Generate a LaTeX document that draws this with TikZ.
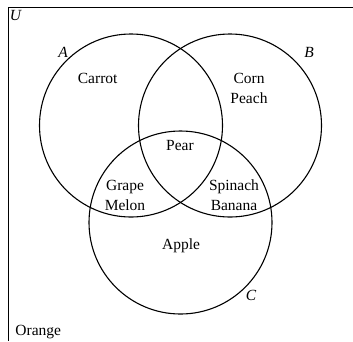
\documentclass[tikz,border=0pt]{standalone}
\usepackage{fontspec}
\setmainfont{Liberation Serif}
\begin{document}
\begin{tikzpicture}[x=1pt,y=-1pt,
  setcircle/.style={circle,draw,line width=1.1pt,minimum size=183pt,inner sep=0pt},
  lbl/.style={font=\fontsize{15.5}{20}\selectfont,inner sep=0pt,align=center},
  setname/.style={font=\fontsize{15.5}{20}\selectfont\itshape,inner sep=0pt}]
\useasboundingbox (0,0) rectangle (353,341);
\coordinate (tl) at (8,7.5);
\coordinate (tr) at (353,7.5);
\coordinate (bl) at (8,341);
\draw[line width=1pt] (tr) -- (tl) -- (bl);
\node[setcircle] (A) at (131,125.5) {};
\node[setcircle] (B) at (230,125.5) {};
\node[setcircle] (C) at (180.5,222.5) {};
\node[setname] (U) at (15.5,15) {U};
\node[setname] (la) at (63,52) {A};
\node[setname] (lb) at (309,52) {B};
\node[setname] (lc) at (251,295) {C};
\node[lbl] (carrot) at (97.7,78) {Carrot};
\node[lbl] (cornpeach) at (249,88) {Corn\\Peach};
\node[lbl] (pear) at (180,145.7) {Pear};
\node[lbl] (grapemelon) at (125,195) {Grape\\Melon};
\node[lbl] (spinbanana) at (234,195) {Spinach\\Banana};
\node[lbl] (apple) at (181,245.7) {Apple};
\node[lbl] (orange) at (38.3,332.3) {Orange};
\end{tikzpicture}
\end{document}
